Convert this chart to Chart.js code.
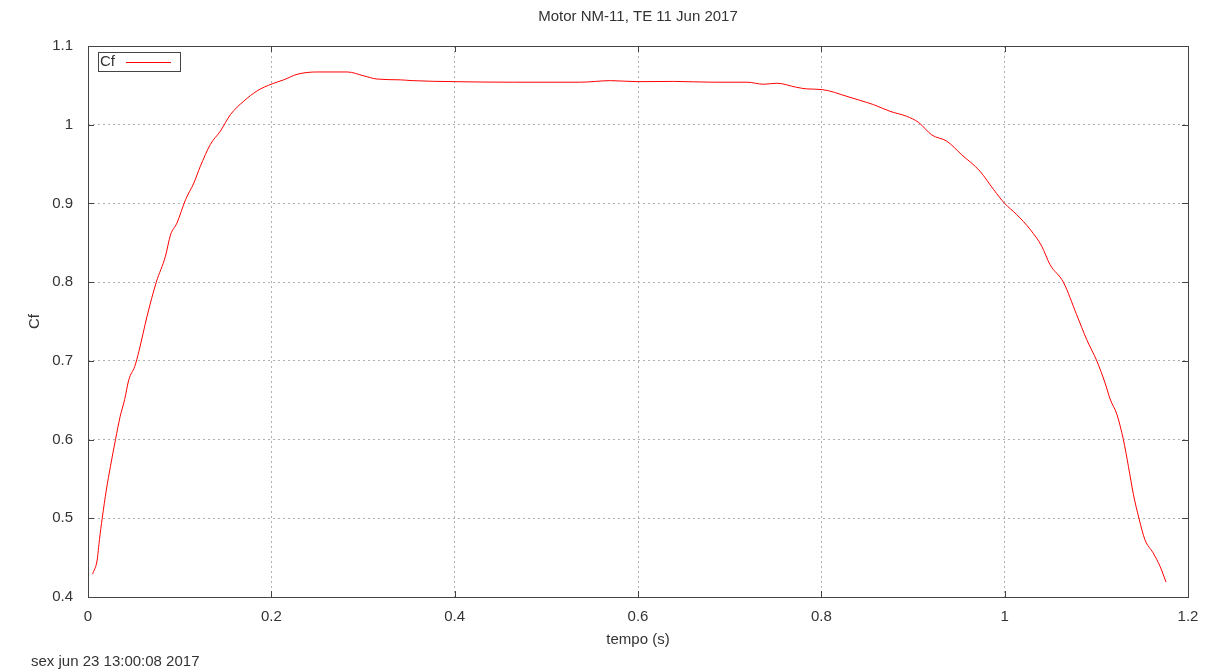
<!DOCTYPE html>
<html>
<head>
<meta charset="utf-8">
<title>Motor NM-11, TE 11 Jun 2017</title>
<script src="https://cdn.jsdelivr.net/npm/chart.js@4.4.1/dist/chart.umd.min.js"></script>
<style>
    body { margin: 0; background: #fff; }
    #wrap { position: relative; width: 1211px; height: 672px; }
    #stamp {
        position: absolute; left: 31px; top: 652px;
        font: 15px 'Liberation Sans', Arial, sans-serif; color: #333;
        white-space: nowrap;
    }
</style>
</head>
<body>
<div id="wrap">
    <canvas id="cfChart" width="1211" height="672"></canvas>
    <div id="stamp">sex jun 23 13:00:08 2017</div>
</div>
<script>
// Thrust coefficient over the burn
const tempo = [0.005, 0.010, 0.0125, 0.0155, 0.020, 0.0245, 0.030, 0.035, 0.040, 0.0445,
    0.051, 0.0555, 0.0645, 0.0745, 0.0845, 0.090, 0.097, 0.1065, 0.1155, 0.1225,
    0.1335, 0.1445, 0.1555, 0.170, 0.1845, 0.201, 0.2135, 0.228, 0.250, 0.283,
    0.301, 0.3155, 0.341, 0.3535, 0.400, 0.464, 0.537, 0.570, 0.600, 0.639,
    0.682, 0.719, 0.737, 0.7515, 0.773, 0.784, 0.801, 0.828, 0.842, 0.857,
    0.875, 0.893, 0.906, 0.9205, 0.937, 0.953, 0.973, 0.988, 1.000, 1.013,
    1.028, 1.0405, 1.0495, 1.064, 1.0785, 1.0895, 1.1005, 1.1095, 1.115, 1.1225,
    1.1295, 1.135, 1.1405, 1.1465, 1.153, 1.162, 1.1695, 1.176];
const cf = [0.429, 0.447, 0.473, 0.500, 0.536, 0.566, 0.600, 0.629, 0.651, 0.676,
    0.693, 0.712, 0.757, 0.800, 0.833, 0.860, 0.875, 0.905, 0.926, 0.947,
    0.975, 0.992, 1.013, 1.030, 1.043, 1.052, 1.057, 1.064, 1.067, 1.067,
    1.062, 1.058, 1.057, 1.056, 1.0547, 1.054, 1.054, 1.056, 1.0547, 1.055,
    1.054, 1.054, 1.0514, 1.0527, 1.0475, 1.0455, 1.0446, 1.036, 1.031, 1.0255,
    1.017, 1.0107, 1.003, 0.987, 0.979, 0.962, 0.941, 0.9175, 0.900, 0.886,
    0.8667, 0.8455, 0.8222, 0.800, 0.7587, 0.727, 0.700, 0.672, 0.6516, 0.6317,
    0.600, 0.566, 0.530, 0.500, 0.4728, 0.456, 0.439, 0.419];

const xTicks = [0, 0.2, 0.4, 0.6, 0.8, 1, 1.2];
const yTicks = [0.4, 0.5, 0.6, 0.7, 0.8, 0.9, 1, 1.1];

const FONT = "'Liberation Sans', Arial, sans-serif";
const TEXT = '#333';
const FRAME = '#444';

Chart.defaults.font.family = FONT;
Chart.defaults.font.size = 15;
Chart.defaults.color = TEXT;

const points = tempo.map((t, i) => ({ x: t, y: cf[i] }));

// border box, mirrored inner tick marks and the small key box
const framePlugin = {
    id: 'frame',
    afterDraw(chart) {
        const { ctx, chartArea: a, scales } = chart;
        const tl = 6;
        ctx.save();
        ctx.strokeStyle = FRAME;
        ctx.lineWidth = 1;
        ctx.strokeRect(Math.round(a.left) + 0.5, Math.round(a.top) + 0.5,
            Math.round(a.right - a.left), Math.round(a.bottom - a.top));
        ctx.beginPath();
        xTicks.forEach(v => {
            const px = Math.round(scales.x.getPixelForValue(v)) + 0.5;
            ctx.moveTo(px, a.bottom); ctx.lineTo(px, a.bottom - tl);
            ctx.moveTo(px, a.top); ctx.lineTo(px, a.top + tl);
        });
        yTicks.forEach(v => {
            const py = Math.round(scales.y.getPixelForValue(v)) + 0.5;
            ctx.moveTo(a.left, py); ctx.lineTo(a.left + tl, py);
            ctx.moveTo(a.right, py); ctx.lineTo(a.right - tl, py);
        });
        ctx.stroke();

        // key
        const kx = a.left + 10, ky = a.top + 6;
        ctx.strokeRect(Math.round(kx) + 0.5, Math.round(ky) + 0.5, 82, 19);
        ctx.fillStyle = TEXT;
        ctx.font = '15px ' + FONT;
        ctx.textBaseline = 'middle';
        ctx.fillText('Cf', kx + 2, ky + 10);
        ctx.strokeStyle = '#ff0000';
        ctx.beginPath();
        ctx.moveTo(kx + 28, Math.round(ky + 10) + 0.5);
        ctx.lineTo(kx + 73, Math.round(ky + 10) + 0.5);
        ctx.stroke();
        ctx.restore();
    }
};

const fmt = v => String(Number(v.toFixed(1)));

new Chart(document.getElementById('cfChart'), {
    type: 'scatter',
    data: {
        datasets: [{
            label: 'Cf',
            data: points,
            showLine: true,
            borderColor: '#ff0000',
            borderWidth: 1,
            pointRadius: 0,
            cubicInterpolationMode: 'monotone',
            fill: false
        }]
    },
    options: {
        responsive: false,
        animation: false,
        layout: { padding: { left: 0, right: 23, top: 0, bottom: 15 } },
        plugins: {
            legend: { display: false },
            tooltip: { enabled: false },
            title: {
                display: true,
                text: 'Motor NM-11, TE 11 Jun 2017',
                fullSize: false,
                color: TEXT,
                font: { size: 15, weight: 'normal' },
                padding: { top: 8, bottom: 20 }
            }
        },
        scales: {
            x: {
                type: 'linear',
                min: 0,
                max: 1.2,
                afterBuildTicks: s => { s.ticks = xTicks.map(v => ({ value: v })); },
                afterFit: s => { s.height = 60; },
                ticks: { callback: fmt, padding: 11, maxRotation: 0, color: TEXT },
                grid: { color: '#b0b0b0', lineWidth: 1, drawTicks: false },
                border: { display: false, dash: [2, 3] },
                title: { display: true, text: 'tempo (s)', color: TEXT, padding: { top: 0, bottom: 8 } }
            },
            y: {
                min: 0.4,
                max: 1.1,
                afterBuildTicks: s => { s.ticks = yTicks.map(v => ({ value: v })); },
                afterFit: s => { s.width = 88; },
                ticks: { callback: fmt, padding: 15, color: TEXT },
                grid: { color: '#b0b0b0', lineWidth: 1, drawTicks: false },
                border: { display: false, dash: [2, 3] },
                title: { display: true, text: 'Cf', color: TEXT, padding: { top: 26, bottom: 0 } }
            }
        }
    },
    plugins: [framePlugin]
});
</script>
</body>
</html>
